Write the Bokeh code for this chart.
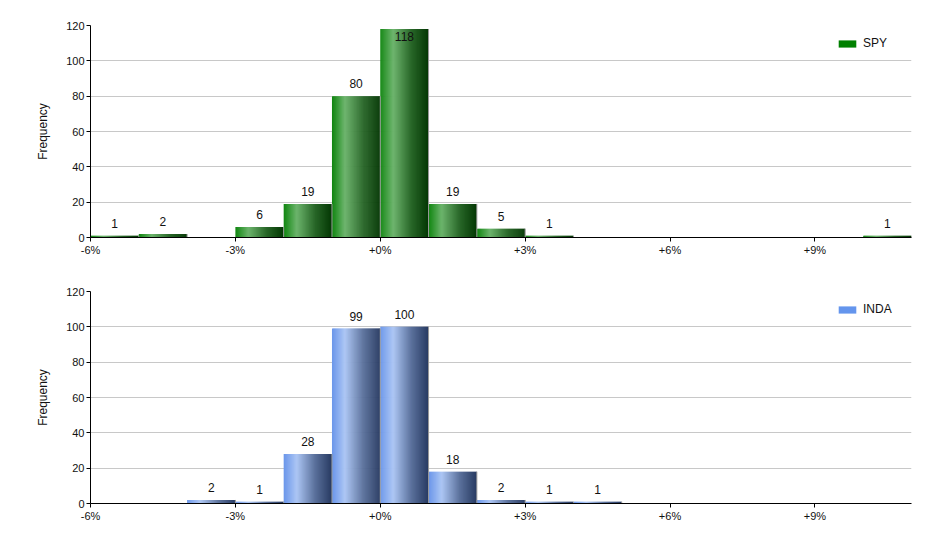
import numpy as np
from bokeh.plotting import figure
from bokeh.layouts import column
from bokeh.models import FixedTicker, Legend, LegendItem, Range1d, ColumnDataSource
from bokeh.embed import file_html
from bokeh.resources import INLINE

# ---- data ----
spy_bin_left = [-6, -5, -3, -2, -1, 0, 1, 2, 3, 10]
spy_counts = [1, 2, 6, 19, 80, 118, 19, 5, 1, 1]

inda_bin_left = [-4, -3, -2, -1, 0, 1, 2, 3, 4]
inda_counts = [2, 1, 28, 99, 100, 18, 2, 1, 1]

bin_width = 1.0
x_tick_values = [-6, -3, 0, 3, 6, 9]
x_tick_labels = ["-6%", "-3%", "+0%", "+3%", "+6%", "+9%"]
y_tick_values = [0, 20, 40, 60, 80, 100, 120]

FONT = "Liberation Sans"

# gradient stops (t, rgb)
green_stops = [(0.0, (16, 134, 16)), (0.27, (108, 180, 108)), (0.65, (40, 102, 40)), (1.0, (3, 55, 3))]
blue_stops = [(0.0, (106, 150, 234)), (0.27, (172, 198, 244)), (0.65, (90, 112, 155)), (1.0, (40, 58, 98))]


def interp_color(stops, t):
    for (t0, c0), (t1, c1) in zip(stops[:-1], stops[1:]):
        if t0 <= t <= t1:
            f = (t - t0) / (t1 - t0) if t1 > t0 else 0
            c = [int(round(a + (b - a) * f)) for a, b in zip(c0, c1)]
            return "#%02x%02x%02x" % tuple(c)
    return "#%02x%02x%02x" % stops[-1][1]


def make_panel(name, lefts, counts, stops, legend_color, top_border, bottom_border, height):
    p = figure(width=932, height=height, output_backend="svg", toolbar_location=None,
               x_range=Range1d(-6, 11), y_range=Range1d(0, 120),
               min_border_left=90, min_border_right=21,
               min_border_top=top_border, min_border_bottom=bottom_border)
    p.outline_line_color = None
    p.background_fill_color = "white"
    p.border_fill_color = "white"

    # gradient bars as narrow overlapping strips
    n = 48
    ov = 0.6 / n
    L, R, T, C = [], [], [], []
    for lft, cnt in zip(lefts, counts):
        for k in range(n):
            t0 = k / n
            t1 = (k + 1) / n
            L.append(lft + bin_width * t0)
            R.append(min(lft + bin_width * (t1 + ov), lft + bin_width))
            T.append(cnt)
            C.append(interp_color(stops, (t0 + t1) / 2))
    src = ColumnDataSource(dict(left=L, right=R, top=T, color=C))
    p.quad(left="left", right="right", bottom=0, top="top", source=src,
           fill_color="color", line_color=None)
    # thin grey right edge
    p.segment(x0=[l + bin_width for l in lefts], x1=[l + bin_width for l in lefts],
              y0=[0] * len(lefts), y1=counts, line_color="#9a9a9a", line_width=1)

    # value labels
    lab_x = [l + bin_width / 2 for l in lefts]
    inside = [c > 110 for c in counts]
    out_src = ColumnDataSource(dict(x=[x for x, i in zip(lab_x, inside) if not i],
                                    y=[c for c, i in zip(counts, inside) if not i],
                                    t=[str(c) for c, i in zip(counts, inside) if not i]))
    in_src = ColumnDataSource(dict(x=[x for x, i in zip(lab_x, inside) if i],
                                   y=[c for c, i in zip(counts, inside) if i],
                                   t=[str(c) for c, i in zip(counts, inside) if i]))
    p.text(x="x", y="y", text="t", source=out_src, text_align="center", text_baseline="bottom",
           y_offset=-8, text_font_size="12px", text_font={"value": FONT}, text_color="#111111")
    p.text(x="x", y="y", text="t", source=in_src, text_align="center", text_baseline="top",
           y_offset=3, text_font_size="12px", text_font={"value": FONT}, text_color="#111111")

    # axes
    p.xaxis.ticker = FixedTicker(ticks=x_tick_values)
    p.xaxis.major_label_overrides = {v: s for v, s in zip(x_tick_values, x_tick_labels)}
    p.yaxis.ticker = FixedTicker(ticks=y_tick_values)
    for ax in (p.xaxis[0], p.yaxis[0]):
        ax.axis_line_color = "black"
        ax.axis_line_width = 1
        ax.major_tick_line_color = "black"
        ax.major_tick_out = 4
        ax.major_tick_in = 0
        ax.minor_tick_line_color = None
        ax.major_label_text_font = FONT
        ax.major_label_text_font_size = "11px"
        ax.major_label_text_color = "#111111"
        ax.major_label_standoff = 2
    p.yaxis.axis_label = "Frequency"
    p.yaxis.axis_label_text_font = FONT
    p.yaxis.axis_label_text_font_size = "12px"
    p.yaxis.axis_label_text_font_style = "normal"
    p.yaxis.axis_label_text_color = "#111111"
    p.yaxis.axis_label_standoff = 13

    p.xgrid.grid_line_color = None
    p.ygrid.grid_line_color = "#c8c8c8"
    p.ygrid.ticker = FixedTicker(ticks=y_tick_values)

    # legend (proxy renderer placed outside visible range)
    dummy = p.quad(left=[20], right=[21], top=[1], bottom=[0], fill_color=legend_color, line_color=None)
    leg = Legend(items=[LegendItem(label=name, renderers=[dummy])], location=(746, 187),
                 glyph_width=22, glyph_height=9, label_standoff=5, padding=0, margin=0,
                 border_line_color=None, background_fill_alpha=0,
                 label_text_font=FONT, label_text_font_size="12px", label_text_color="#111111")
    p.add_layout(leg)
    return p


p1 = make_panel("SPY", spy_bin_left, spy_counts, green_stops, "#008000", 25, 41, 278)
p2 = make_panel("INDA", inda_bin_left, inda_counts, blue_stops, "#6495ed", 13, 33, 258)

layout = column(p1, p2, spacing=0)
open("out.html", "w").write(file_html(layout, INLINE))
